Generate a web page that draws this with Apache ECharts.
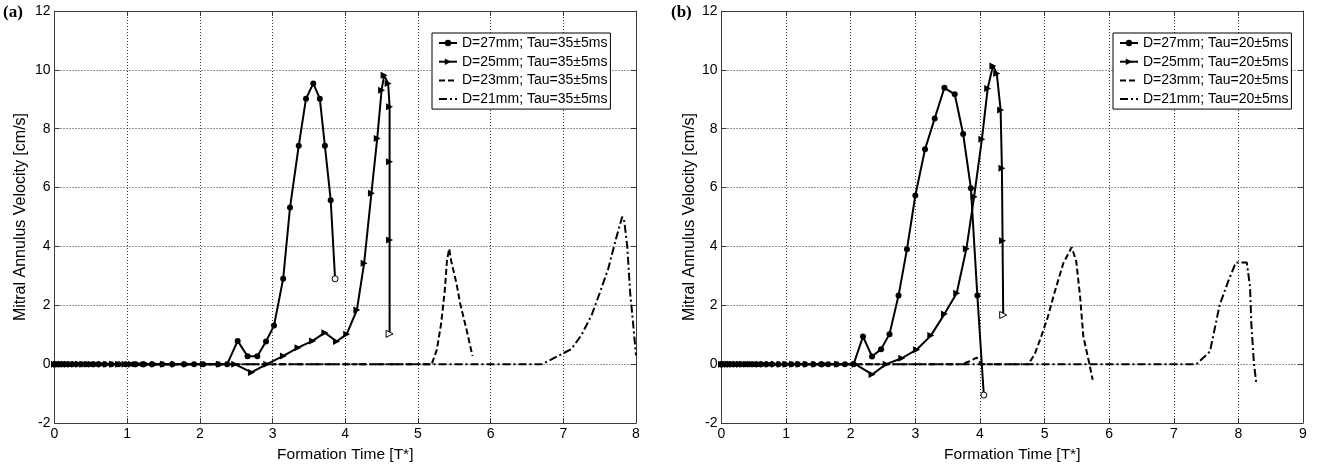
<!DOCTYPE html>
<html>
<head>
<meta charset="utf-8">
<title>Mitral Annulus Velocity vs Formation Time</title>
<script src="https://cdn.jsdelivr.net/npm/echarts@6/dist/echarts.min.js"></script>
<style>
  html, body { margin: 0; padding: 0; background: #fff; }
  #chart { width: 1319px; height: 470px; }
</style>
</head>
<body>
<div id="chart"></div>
<script>
// ---- Panel (a): Tau = 35±5ms ----
const namesA = ['D=27mm; Tau=35±5ms', 'D=25mm; Tau=35±5ms', 'D=23mm; Tau=35±5ms', 'D=21mm; Tau=35±5ms'];

const a27X = [0, 0.04, 0.08, 0.13, 0.18, 0.24, 0.30, 0.37, 0.44, 0.52, 0.60, 0.69, 0.78, 0.88, 0.98, 1.09, 1.21, 1.34, 1.48, 1.62, 1.78, 1.92, 2.045, 2.25, 2.376,
              2.52, 2.656, 2.79, 2.91, 3.02, 3.146, 3.24, 3.36, 3.46, 3.56, 3.65, 3.72, 3.80, 3.86];
const a27Y = [0, 0, 0, 0, 0, 0, 0, 0, 0, 0, 0, 0, 0, 0, 0, 0, 0, 0, 0, 0, 0, 0, 0, 0, 0,
              0.79, 0.27, 0.27, 0.77, 1.31, 2.90, 5.32, 7.42, 9.02, 9.54, 9.02, 7.42, 5.57, 2.90];

const a25X = [0, 0.03, 0.06, 0.10, 0.14, 0.18, 0.23, 0.28, 0.33, 0.39, 0.45, 0.51, 0.58, 0.65, 0.72, 0.80, 0.88, 0.97, 1.06, 1.16, 1.27, 1.38, 1.50, 1.65, 1.82, 2.05, 2.27, 2.48,
              2.71, 2.92, 3.15, 3.35, 3.55, 3.72, 3.88, 4.02, 4.16, 4.26, 4.36, 4.44, 4.50, 4.535, 4.59, 4.61, 4.61, 4.61, 4.61];
const a25Y = [0, 0, 0, 0, 0, 0, 0, 0, 0, 0, 0, 0, 0, 0, 0, 0, 0, 0, 0, 0, 0, 0, 0, 0, 0, 0, 0, 0,
              -0.28, 0, 0.28, 0.56, 0.79, 1.07, 0.77, 1.02, 1.84, 3.43, 5.81, 7.67, 9.31, 9.82, 9.54, 8.75, 6.88, 4.22, 1.03];

const a23X = [0, 5.19, 5.26, 5.32, 5.37, 5.40, 5.43, 5.46, 5.53, 5.58, 5.67, 5.75];
const a23Y = [0, 0, 0.49, 1.39, 2.52, 3.54, 3.92, 3.48, 2.75, 2.07, 1.16, 0.28];

const a21X = [0, 6.71, 7.00, 7.11, 7.25, 7.39, 7.50, 7.62, 7.72, 7.81, 7.84, 7.88, 7.92, 7.96, 8.00];
const a21Y = [0, 0, 0.37, 0.51, 0.99, 1.67, 2.41, 3.26, 4.22, 5.01, 4.84, 3.99, 2.41, 1.39, 0.30];

// ---- Panel (b): Tau = 20±5ms ----
const namesB = ['D=27mm; Tau=20±5ms', 'D=25mm; Tau=20±5ms', 'D=23mm; Tau=20±5ms', 'D=21mm; Tau=20±5ms'];

const b27X = [0, 0.04, 0.08, 0.13, 0.18, 0.24, 0.30, 0.37, 0.44, 0.52, 0.60, 0.69, 0.78, 0.88, 0.98, 1.08, 1.18, 1.29, 1.42, 1.54, 1.65, 1.78, 1.91, 2.045,
              2.19, 2.33, 2.47, 2.60, 2.74, 2.87, 3.00, 3.15, 3.30, 3.45, 3.61, 3.74, 3.86, 3.96, 4.06];
const b27Y = [0, 0, 0, 0, 0, 0, 0, 0, 0, 0, 0, 0, 0, 0, 0, 0, 0, 0, 0, 0, 0, 0, 0, 0,
              0.94, 0.26, 0.51, 1.02, 2.33, 3.90, 5.73, 7.30, 8.35, 9.39, 9.17, 7.82, 5.98, 2.33, -1.05];

const b25X = [0, 0.03, 0.06, 0.10, 0.14, 0.18, 0.23, 0.28, 0.33, 0.39, 0.45, 0.52, 0.59, 0.66, 0.74, 0.82, 0.91, 1.00, 1.10, 1.20, 1.32, 1.45, 1.60, 1.80, 2.07,
              2.33, 2.55, 2.79, 3.02, 3.24, 3.45, 3.64, 3.79, 3.91, 4.03, 4.12, 4.20, 4.26, 4.32, 4.34, 4.35, 4.36];
const b25Y = [0, 0, 0, 0, 0, 0, 0, 0, 0, 0, 0, 0, 0, 0, 0, 0, 0, 0, 0, 0, 0, 0, 0, 0, 0,
              -0.35, 0, 0.20, 0.49, 0.97, 1.70, 2.41, 3.92, 5.69, 7.64, 9.37, 10.13, 9.88, 8.64, 6.66, 4.19, 1.67];

const b23X = [0, 3.72, 3.84, 3.95, 4.02, 4.75, 4.85, 4.95, 5.05, 5.15, 5.29, 5.42, 5.49, 5.55, 5.60, 5.68, 5.745];
const b23Y = [0, 0, 0.10, 0.22, 0, 0, 0.35, 0.95, 1.60, 2.40, 3.43, 3.97, 3.50, 2.30, 0.94, 0.15, -0.53];

const b21X = [0, 7.35, 7.56, 7.71, 7.84, 7.96, 8.13, 8.18, 8.20, 8.24, 8.28];
const b21Y = [0, 0, 0.43, 2.01, 2.80, 3.45, 3.45, 2.64, 1.39, 0.03, -0.70];

// Axis ranges: [min, max, interval]
const xRangeA = [0, 8, 1];
const xRangeB = [0, 9, 1];
const yRange = [-2, 12, 2];

const xTitle = 'Formation Time [T*]';
const yTitle = 'Mitral Annulus Velocity [cm/s]';
const panelTags = ['(a)', '(b)'];

// ---- Styling ----
const SANS = '"Liberation Sans", Arial, Helvetica, sans-serif';
const SERIF = '"Liberation Serif", "Times New Roman", serif';
const INK = '#000';
const FRAME = '#3a3a3a';
const TRI = 'path://M0,0L10,5L0,10Z';
const DASH = [6, 3];
const DASH_DOT = [8, 3, 2, 3];

const grids = [
  { left: 54.5, top: 11, width: 581.5, height: 412 },
  { left: 721.5, top: 11, width: 581.5, height: 412 }
];

function pairs(xs, ys) {
  return xs.map((x, i) => [x, ys[i]]);
}

function xAxes(gi, range) {
  const base = {
    gridIndex: gi, type: 'value', min: range[0], max: range[1], interval: range[2],
    axisLine: { show: true, onZero: false, lineStyle: { color: FRAME, width: 1 } },
    axisTick: { show: true, inside: true, length: 5, lineStyle: { color: FRAME } }
  };
  return [
    Object.assign({}, base, {
      position: 'bottom',
      axisLabel: { color: INK, fontFamily: SANS, fontSize: 14, margin: 4 },
      splitLine: { show: true, lineStyle: { color: '#333', width: 1, type: [1, 2] } },
      name: xTitle, nameLocation: 'middle', nameGap: 24,
      nameTextStyle: { color: INK, fontFamily: SANS, fontSize: 15.5 }
    }),
    Object.assign({}, base, {
      position: 'top', axisLabel: { show: false }, splitLine: { show: false }
    })
  ];
}

function yAxes(gi, gap) {
  const base = {
    gridIndex: gi, type: 'value', min: yRange[0], max: yRange[1], interval: yRange[2],
    axisLine: { show: true, onZero: false, lineStyle: { color: FRAME, width: 1 } },
    axisTick: { show: true, inside: true, length: 5, lineStyle: { color: FRAME } }
  };
  return [
    Object.assign({}, base, {
      position: 'left',
      axisLabel: { color: INK, fontFamily: SANS, fontSize: 14, margin: 4 },
      splitLine: { show: true, lineStyle: { color: '#333', width: 1, type: [1, 2] } },
      name: yTitle, nameLocation: 'middle', nameGap: gap,
      nameTextStyle: { color: INK, fontFamily: SANS, fontSize: 16 }
    }),
    Object.assign({}, base, {
      position: 'right', axisLabel: { show: false }, splitLine: { show: false }
    })
  ];
}

function markerSeries(name, xs, ys, gi, symbol, size) {
  const pts = pairs(xs, ys);
  const data = pts.map((p, i) => i === pts.length - 1
    ? { value: p, itemStyle: { color: '#fff', borderColor: INK, borderWidth: 1 } }
    : p);
  return {
    type: 'line', name, xAxisIndex: gi * 2, yAxisIndex: gi * 2, data,
    symbol, symbolSize: size, showSymbol: true, showAllSymbol: true,
    lineStyle: { color: INK, width: 2 }, itemStyle: { color: INK },
    z: 5, silent: true
  };
}

function dashedSeries(name, xs, ys, gi, dash) {
  return {
    type: 'line', name, xAxisIndex: gi * 2, yAxisIndex: gi * 2,
    data: pairs(xs, ys), symbol: 'none', showSymbol: false,
    lineStyle: { color: INK, width: 2, type: dash }, itemStyle: { color: INK },
    z: 3, silent: true
  };
}

function legendFor(names, left) {
  return {
    data: [
      { name: names[0] },
      { name: names[1] },
      { name: names[2], itemStyle: { opacity: 0 } },
      { name: names[3], itemStyle: { opacity: 0 } }
    ],
    orient: 'vertical', left, top: 33,
    itemWidth: 18, itemHeight: 8, itemGap: 4.7,
    padding: [3, 3, 3, 6],
    backgroundColor: '#fff', borderColor: INK, borderWidth: 1, borderRadius: 0,
    textStyle: { color: INK, fontFamily: SANS, fontSize: 14, lineHeight: 14 },
    selectedMode: false, inactiveColor: INK
  };
}

const chart = echarts.init(document.getElementById('chart'), null, { renderer: 'canvas' });

chart.setOption({
  animation: false,
  backgroundColor: '#fff',
  grid: grids.map(g => Object.assign({ outerBoundsMode: 'none', containLabel: false }, g)),
  xAxis: [].concat(xAxes(0, xRangeA), xAxes(1, xRangeB)),
  yAxis: [].concat(yAxes(0, 25.5), yAxes(1, 19.5)),
  legend: [legendFor(namesA, 432), legendFor(namesB, 1113)],
  graphic: [
    { type: 'text', left: 3, top: 4, style: { text: panelTags[0], font: 'bold 17px ' + SERIF, fill: INK } },
    { type: 'text', left: 671, top: 4, style: { text: panelTags[1], font: 'bold 17px ' + SERIF, fill: INK } }
  ],
  series: [
    dashedSeries(namesA[3], a21X, a21Y, 0, DASH_DOT),
    dashedSeries(namesA[2], a23X, a23Y, 0, DASH),
    markerSeries(namesA[1], a25X, a25Y, 0, TRI, [7, 7]),
    markerSeries(namesA[0], a27X, a27Y, 0, 'circle', 6),
    dashedSeries(namesB[3], b21X, b21Y, 1, DASH_DOT),
    dashedSeries(namesB[2], b23X, b23Y, 1, DASH),
    markerSeries(namesB[1], b25X, b25Y, 1, TRI, [7, 7]),
    markerSeries(namesB[0], b27X, b27Y, 1, 'circle', 6)
  ]
});
</script>
</body>
</html>
